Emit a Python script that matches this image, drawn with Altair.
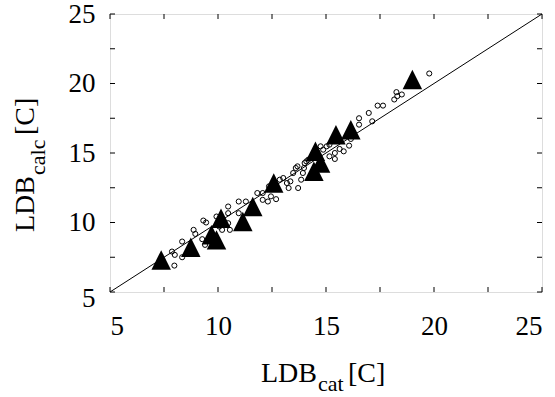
import altair as alt
import pandas as pd

# Catalogue vs. calculated LDB temperatures
circle_x = [7.87, 8.00, 7.98, 8.34, 8.34, 8.87, 8.95, 9.32, 9.45, 9.27, 9.40, 9.93, 10.06,
            10.19, 10.47, 10.47, 10.47, 10.55, 10.96, 10.96, 11.29, 11.82, 12.07, 12.07,
            12.31, 12.45, 12.69, 12.36, 12.86, 13.02, 13.19, 13.35, 13.27, 13.48, 13.60,
            13.68, 13.71, 13.85, 13.93, 13.98, 14.01, 14.09, 14.18, 14.75, 14.87, 15.03,
            15.16, 15.16, 15.41, 15.41, 15.63, 15.82, 16.07, 16.15, 16.53, 16.53, 16.98,
            17.14, 17.39, 17.64, 18.16, 18.26, 18.30, 18.51, 19.78]
circle_y = [7.91, 7.67, 6.90, 7.50, 8.63, 9.47, 9.18, 10.14, 10.00, 8.80, 8.39, 10.43, 9.71,
            9.47, 11.15, 10.67, 9.95, 9.47, 11.51, 10.67, 11.51, 12.12, 12.12, 11.63,
            11.51, 11.88, 11.68, 12.60, 13.08, 13.20, 12.84, 12.96, 12.48, 13.56, 13.92,
            14.04, 12.48, 13.08, 13.56, 13.92, 14.28, 14.40, 14.52, 15.48, 15.24, 15.48,
            15.60, 14.76, 14.57, 15.00, 15.29, 15.12, 15.53, 16.01, 17.04, 17.50, 17.88,
            17.28, 18.41, 18.41, 18.85, 19.38, 19.09, 19.21, 20.72]

triangle_x = [7.37, 8.74, 9.70, 9.93, 10.14, 11.15, 11.61, 12.58, 14.44, 14.51, 14.75,
              15.46, 16.15, 19.00]
triangle_y = [7.31, 8.22, 9.11, 8.75, 10.31, 10.07, 11.15, 12.84, 13.68, 15.12, 14.28,
              16.32, 16.68, 20.29]

identity_line = [5, 25]
label_values = [5, 10, 15, 20, 25]
tick_values = [5, 7.5, 10, 12.5, 15, 17.5, 20, 22.5, 25]

W, H = 432, 278
FONT = "Liberation Serif"
TICK = 5
LABEL_SIZE = 27
TITLE_SIZE = 28
SUB_SIZE = 22

circles = pd.DataFrame({"cat": circle_x, "calc": circle_y})
triangles = pd.DataFrame({"cat": triangle_x, "calc": triangle_y})
diag = pd.DataFrame({"cat": identity_line, "calc": identity_line})
ticks = pd.DataFrame({"v": tick_values})

xs = alt.Scale(domain=[5, 25], nice=False, zero=False)
ys = alt.Scale(domain=[5, 25], nice=False, zero=False)

x_axis = alt.Axis(values=label_values, title=None, ticks=False, tickSize=0, domain=False,
                  grid=False, labelFont=FONT, labelFontSize=LABEL_SIZE, labelColor="black",
                  labelPadding=21, labelAngle=0)
y_axis = alt.Axis(values=label_values, title=None, ticks=False, tickSize=0, domain=False,
                  grid=False, labelFont=FONT, labelFontSize=LABEL_SIZE, labelColor="black",
                  labelPadding=15,
                  labelOffset={"condition": {"test": "datum.value === 5", "value": 6},
                               "value": 0})

line = alt.Chart(diag).mark_line(color="black", strokeWidth=1).encode(
    x=alt.X("cat:Q", scale=xs, axis=x_axis),
    y=alt.Y("calc:Q", scale=ys, axis=y_axis),
)

points = alt.Chart(circles).mark_point(
    shape="circle", filled=False, color="black", strokeWidth=1, size=26, opacity=1
).encode(x=alt.X("cat:Q", scale=xs), y=alt.Y("calc:Q", scale=ys))

tris = alt.Chart(triangles).mark_point(
    shape="M0,-1L1,1L-1,1Z", filled=True, color="black", size=380, opacity=1
).encode(x=alt.X("cat:Q", scale=xs), y=alt.Y("calc:Q", scale=ys))

# inward ticks on all four sides of the frame
tick_bottom = alt.Chart(ticks).mark_rule(color="black", strokeWidth=1).encode(
    x=alt.X("v:Q", scale=xs), y=alt.value(H), y2=alt.value(H - TICK))
tick_top = alt.Chart(ticks).mark_rule(color="black", strokeWidth=1).encode(
    x=alt.X("v:Q", scale=xs), y=alt.value(0), y2=alt.value(TICK))
tick_left = alt.Chart(ticks).mark_rule(color="black", strokeWidth=1).encode(
    y=alt.Y("v:Q", scale=ys), x=alt.value(0), x2=alt.value(TICK))
tick_right = alt.Chart(ticks).mark_rule(color="black", strokeWidth=1).encode(
    y=alt.Y("v:Q", scale=ys), x=alt.value(W), x2=alt.value(W - TICK))

one = pd.DataFrame({"k": [0]})


def label(text, x, y, size, angle=0):
    return alt.Chart(one).mark_text(
        text=text, font=FONT, fontSize=size, color="black", align="left",
        baseline="alphabetic", angle=angle
    ).encode(x=alt.value(x), y=alt.value(y))


# axis titles with subscripts
x_title = (label("LDB", 151, 368, TITLE_SIZE) + label("cat", 208, 377, SUB_SIZE)
           + label("[C]", 238, 368, TITLE_SIZE))
y_title = (label("LDB", -76, 218, TITLE_SIZE, 270) + label("calc", -65, 161, SUB_SIZE, 270)
           + label("[C]", -76, 121, TITLE_SIZE, 270))

chart = alt.layer(
    line, points, tris, tick_bottom, tick_top, tick_left, tick_right, x_title, y_title
).properties(
    width=W, height=H,
    autosize=alt.AutoSizeParams(type="none"),
    padding={"left": 110, "top": 14, "right": 13, "bottom": 105},
).configure_view(stroke="black", strokeWidth=1).configure(background="white")

chart.save("out.html", embed_options={"renderer": "svg", "actions": False})
